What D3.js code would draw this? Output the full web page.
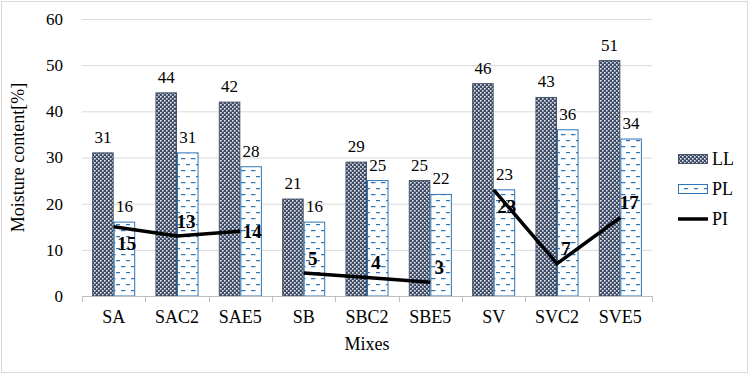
<!DOCTYPE html>
<html>
<head>
<meta charset="utf-8">
<script src="https://cdn.jsdelivr.net/npm/d3@7"></script>
<style>
  body { margin: 0; background: #fff; }
  svg { display: block; }
  text { font-family: "Liberation Serif", "Times New Roman", serif; fill: #000; }
</style>
</head>
<body>
<div id="chart"></div>
<script>
// data
let mixes = ['SA', 'SAC2', 'SAE5', 'SB', 'SBC2', 'SBE5', 'SV', 'SVC2', 'SVE5']
let mixGroup = ['SA', 'SA', 'SA', 'SB', 'SB', 'SB', 'SV', 'SV', 'SV']
let llValues = [31, 44, 42, 21, 29, 25, 46, 43, 51]
let plValues = [16, 31, 28, 16, 25, 22, 23, 36, 34]
let piValues = [15, 13, 14, 5, 4, 3, 23, 7, 17]
let piLabelPos = ['below', 'above', 'right', 'above', 'above', 'above', 'below', 'above', 'above']
let yTicks = [0, 10, 20, 30, 40, 50, 60]

let width = 749
let height = 374
let plotLeft = 82, plotRight = 652, plotTop = 19, plotBottom = 296

const svg = d3.select('#chart')
	.append('svg')
	.attr('width', width)
	.attr('height', height)

// patterns
let defs = svg.append('defs')

let checker = defs.append('pattern')
	.attr('id', 'checker')
	.attr('patternUnits', 'userSpaceOnUse')
	.attr('width', 4)
	.attr('height', 4)
checker.append('rect').attr('width', 4).attr('height', 4).attr('fill', '#3e4b66')
checker.append('rect').attr('x', 0).attr('y', 0).attr('width', 1.6).attr('height', 1.6).attr('fill', '#e8eaee')
checker.append('rect').attr('x', 2).attr('y', 2).attr('width', 1.6).attr('height', 1.6).attr('fill', '#e8eaee')

let dashes = defs.append('pattern')
	.attr('id', 'dashes')
	.attr('patternUnits', 'userSpaceOnUse')
	.attr('width', 10)
	.attr('height', 12)
dashes.append('rect').attr('width', 10).attr('height', 12).attr('fill', '#fff')
dashes.append('rect').attr('x', 1).attr('y', 2).attr('width', 4.5).attr('height', 1.2).attr('fill', '#2e75b6')
dashes.append('rect').attr('x', 6).attr('y', 8).attr('width', 4.5).attr('height', 1.2).attr('fill', '#2e75b6')

// outer border
svg.append('rect')
	.attr('x', 1.5).attr('y', 1.5)
	.attr('width', width - 3).attr('height', height - 3)
	.attr('fill', 'none')
	.attr('stroke', '#d9d9d9')
	.attr('stroke-width', 1)

let xScale = d3.scaleBand()
	.domain(mixes)
	.range([plotLeft, plotRight])

let bw = xScale.bandwidth()

let innerScale = d3.scaleBand()
	.domain(['LL', 'PL'])
	.range([bw * 0.16, bw * 0.84])

let yScale = d3.scaleLinear()
	.domain([0, 60])
	.range([plotBottom, plotTop])

// gridlines
svg.append('g')
	.selectAll('line')
	.data(yTicks.filter(d => d > 0))
	.enter()
	.append('line')
	.attr('x1', plotLeft)
	.attr('x2', plotRight)
	.attr('y1', d => yScale(d) + 0.5)
	.attr('y2', d => yScale(d) + 0.5)
	.attr('stroke', '#d9d9d9')
	.attr('stroke-width', 1)

// y axis labels
let yG = svg.append('g')
	.attr('transform', `translate(${plotLeft},0)`)
	.call(d3.axisLeft(yScale).tickValues(yTicks).tickSize(0).tickPadding(19))
yG.select('.domain').remove()
yG.selectAll('text')
	.attr('font-family', '"Liberation Serif", serif')
	.attr('font-size', 17)
	.attr('fill', '#000')

// bars
let barData = []
mixes.forEach(function(m, i){
	barData.push({mix: m, key: 'LL', value: llValues[i]})
	barData.push({mix: m, key: 'PL', value: plValues[i]})
})

svg.selectAll('.bar')
	.data(barData)
	.enter()
	.append('rect')
	.attr('class', 'bar')
	.attr('x', d => xScale(d.mix) + innerScale(d.key) + 0.5)
	.attr('y', d => yScale(d.value))
	.attr('width', innerScale.bandwidth() - 1)
	.attr('height', d => yScale(0) - yScale(d.value))
	.attr('fill', d => d.key == 'LL' ? 'url(#checker)' : 'url(#dashes)')
	.attr('stroke', d => d.key == 'LL' ? '#44546a' : '#2e75b6')
	.attr('stroke-width', 1)

svg.selectAll('.barLabel')
	.data(barData)
	.enter()
	.append('text')
	.attr('x', d => xScale(d.mix) + innerScale(d.key) + innerScale.bandwidth() / 2)
	.attr('y', d => yScale(d.value) - 10)
	.attr('text-anchor', 'middle')
	.attr('font-size', 17)
	.text(d => d.value)

// x axis
let xG = svg.append('g')
	.attr('transform', `translate(0,${plotBottom})`)
xG.append('line')
	.attr('x1', plotLeft).attr('x2', plotRight)
	.attr('y1', 0.5).attr('y2', 0.5)
	.attr('stroke', '#bfbfbf')
xG.selectAll('.tick')
	.data(mixes.concat(['end']))
	.enter()
	.append('line')
	.attr('x1', (d, i) => Math.round(plotLeft + i * bw) + 0.5)
	.attr('x2', (d, i) => Math.round(plotLeft + i * bw) + 0.5)
	.attr('y1', 0)
	.attr('y2', 6)
	.attr('stroke', '#bfbfbf')
xG.selectAll('.catLabel')
	.data(mixes)
	.enter()
	.append('text')
	.attr('x', d => xScale(d) + bw / 2)
	.attr('y', 27)
	.attr('text-anchor', 'middle')
	.attr('font-size', 18)
	.text(d => d)

// PI line, one segment per mix group
let piData = mixes.map((m, i) => ({mix: m, group: mixGroup[i], value: piValues[i], pos: piLabelPos[i]}))
let piLine = d3.line()
	.x(d => xScale(d.mix) + bw / 2)
	.y(d => yScale(d.value))

d3.groups(piData, d => d.group).forEach(function(g){
	svg.append('path')
		.attr('d', piLine(g[1]))
		.attr('fill', 'none')
		.attr('stroke', '#000')
		.attr('stroke-width', 3.5)
})

let labelOffset = {below: [13, 17], above: [9, -15], right: [12, 0]}

svg.selectAll('.piLabel')
	.data(piData)
	.enter()
	.append('text')
	.attr('x', d => xScale(d.mix) + bw / 2 + labelOffset[d.pos][0])
	.attr('y', d => yScale(d.value) + labelOffset[d.pos][1])
	.attr('dy', '0.35em')
	.attr('text-anchor', 'middle')
	.attr('font-size', 19)
	.attr('font-weight', 'bold')
	.text(d => d.value)

// axis titles
svg.append('text')
	.attr('x', (plotLeft + plotRight) / 2)
	.attr('y', 350)
	.attr('text-anchor', 'middle')
	.attr('font-size', 18)
	.text('Mixes')

svg.append('text')
	.attr('transform', `translate(24,${(plotTop + plotBottom) / 2}) rotate(-90)`)
	.attr('text-anchor', 'middle')
	.attr('font-size', 18)
	.text('Moisture content[%]')

// legend
let legend = svg.append('g')
	.attr('transform', 'translate(678,0)')

legend.append('rect')
	.attr('x', 0.5).attr('y', 154.5).attr('width', 29).attr('height', 9)
	.attr('fill', 'url(#checker)').attr('stroke', '#44546a')
legend.append('rect')
	.attr('x', 0.5).attr('y', 184.5).attr('width', 29).attr('height', 9)
	.attr('fill', 'url(#dashes)').attr('stroke', '#2e75b6')
legend.append('line')
	.attr('x1', 0).attr('x2', 30).attr('y1', 219).attr('y2', 219)
	.attr('stroke', '#000').attr('stroke-width', 3.5)

let legendText = ['LL', 'PL', 'PI']
legend.selectAll('.legText')
	.data(legendText)
	.enter()
	.append('text')
	.attr('x', 34)
	.attr('y', (d, i) => 159 + i * 30)
	.attr('dy', '0.35em')
	.attr('font-size', 18)
	.text(d => d)
</script>
</body>
</html>
